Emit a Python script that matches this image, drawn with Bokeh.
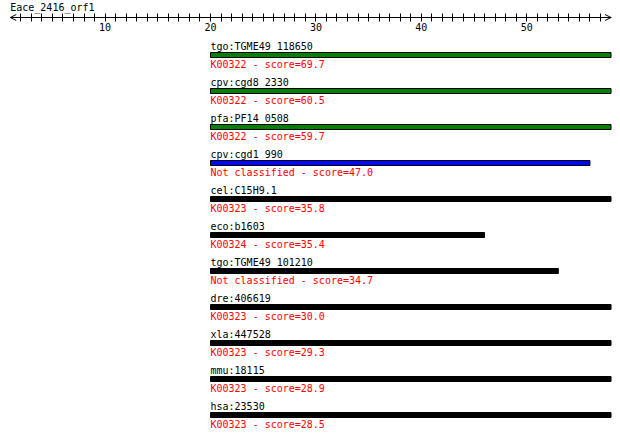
from bokeh.plotting import figure
from bokeh.models import Range1d, FixedTicker, Arrow, OpenHead, ColumnDataSource, LinearAxis
from bokeh.core.properties import value
from bokeh.embed import file_html
from bokeh.resources import INLINE

# ---------------- data ----------------
query_name = "Eace_2416_orf1"
query_start = 1
query_end = 58
axis_ticks = list(range(2, 58))
axis_labelled = [10, 20, 30, 40, 50]

hit_names = ["tgo:TGME49_118650", "cpv:cgd8_2330", "pfa:PF14_0508", "cpv:cgd1_990",
             "cel:C15H9.1", "eco:b1603", "tgo:TGME49_101210", "dre:406619",
             "xla:447528", "mmu:18115", "hsa:23530"]
hit_ko = ["K00322", "K00322", "K00322", "Not classified", "K00323", "K00324",
          "Not classified", "K00323", "K00323", "K00323", "K00323"]
hit_scores = [69.7, 60.5, 59.7, 47.0, 35.8, 35.4, 34.7, 30.0, 29.3, 28.9, 28.5]
hit_start = [20, 20, 20, 20, 20, 20, 20, 20, 20, 20, 20]
hit_end = [58, 58, 58, 56, 58, 46, 53, 58, 58, 58, 58]
hit_kind = ["same", "same", "same", "best", "other", "other", "other",
            "other", "other", "other", "other"]

# ---------------- styles / layout constants ----------------
FONT = "DejaVu Sans Mono"
FSIZE = "10px"
KIND_COLOR = {"same": "#008000", "best": "#0000FF", "other": "#000000"}
W, H = 616, 434
PX_PER_UNIT = 10.54
X0 = 20 - 210 / PX_PER_UNIT          # data value at left frame edge
ROW_PX = 36                           # vertical distance between hits
FIRST_BAR_PX = 54.5                   # centre of first bar from top
AXIS_PX = 17                          # ruler line from top
TITLE_PX = 7                          # ruler title from top
BAR_PX = 5


def px_to_row(px):
    return (px - FIRST_BAR_PX) / ROW_PX


p = figure(frame_width=W, frame_height=H,
           x_range=Range1d(X0, X0 + W / PX_PER_UNIT),
           y_range=Range1d(px_to_row(H), px_to_row(0)),
           output_backend="svg", toolbar_location=None, min_border=0,
           x_axis_location=None, y_axis_location=None)
p.outline_line_color = None
p.grid.visible = False

# ---------------- ruler ----------------
ax = LinearAxis(fixed_location=px_to_row(AXIS_PX))
ax.ticker = FixedTicker(ticks=axis_ticks)
ax.major_label_overrides = {t: (str(t) if t in axis_labelled else "") for t in axis_ticks}
ax.minor_tick_line_color = None
ax.major_tick_in = 4
ax.major_tick_out = 4
ax.bounds = (query_start, query_end)
ax.major_label_standoff = 1
ax.axis_line_color = "black"
ax.major_tick_line_color = "black"
ax.major_label_text_font = FONT
ax.major_label_text_font_size = FSIZE
ax.major_label_text_color = "black"
p.add_layout(ax, "below")

p.add_layout(Arrow(start=OpenHead(size=6, line_width=1, line_color="black"),
                   end=OpenHead(size=6, line_width=1, line_color="black"),
                   x_start=query_start, x_end=query_end,
                   y_start=px_to_row(AXIS_PX), y_end=px_to_row(AXIS_PX),
                   line_color="black", line_width=1))

p.text(x=[query_start], y=[px_to_row(TITLE_PX)], text=[query_name], text_font=value(FONT),
       text_font_size=FSIZE, text_baseline="middle", text_align="left", text_color="black")

# ---------------- hits ----------------
rows = list(range(len(hit_names)))
src = ColumnDataSource(dict(
    row=rows,
    name=hit_names,
    score_text=[f"{k} - score={s:.1f}" for k, s in zip(hit_ko, hit_scores)],
    start=hit_start,
    end=hit_end,
    color=[KIND_COLOR[k] for k in hit_kind],
))

p.hbar(y="row", left="start", right="end", height=BAR_PX / ROW_PX, source=src,
       fill_color="color", line_color="black", line_width=1)
p.text(x="start", y="row", text="name", source=src, y_offset=-8.5,
       text_font=value(FONT), text_font_size=FSIZE, text_baseline="middle",
       text_align="left", text_color="black")
p.text(x="start", y="row", text="score_text", source=src, y_offset=9.5,
       text_font=value(FONT), text_font_size=FSIZE, text_baseline="middle",
       text_align="left", text_color="#FF0000")

open("out.html", "w").write(file_html(p, INLINE))
